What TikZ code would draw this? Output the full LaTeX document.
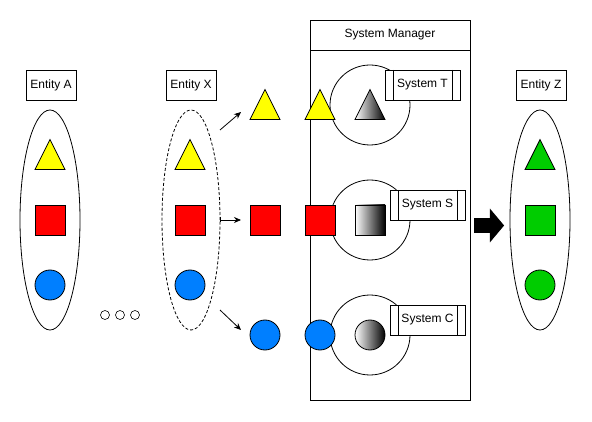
\documentclass[tikz,border=0pt]{standalone}
\usepackage{fontspec}
\setmainfont{Liberation Sans}
\usepackage{tikz}
\usetikzlibrary{arrows.meta}
\usetikzlibrary{shapes.geometric, shapes.arrows}
\definecolor{cyel}{RGB}{255,255,0}
\definecolor{cred}{RGB}{255,0,0}
\definecolor{cblue}{RGB}{0,127,255}
\definecolor{cgreen}{RGB}{0,204,0}

\begin{document}
\begin{tikzpicture}[x=1pt, y=-1pt, line width=0.8pt, font=\fontsize{12}{14}\selectfont,
	tag/.style={draw, rectangle, minimum width=50, minimum height=30, inner sep=0},
	ring/.style={draw, ellipse, minimum width=60, minimum height=220, inner sep=0},
	tri/.style={draw, isosceles triangle, isosceles triangle stretches, shape border rotate=90, minimum width=30, minimum height=30, inner sep=0, anchor=lower side},
	sq/.style={draw, rectangle, minimum size=30, inner sep=0},
	ball/.style={draw, circle, minimum size=30, inner sep=0},
	orbit/.style={draw, circle, minimum size=80, inner sep=0},
	grad/.style={left color=white, right color=black},
	sys/.style={draw, fill=white, rectangle, minimum width=75, minimum height=30, inner sep=0,
		path picture={\draw ([xshift=8pt]path picture bounding box.north west) -- ([xshift=8pt]path picture bounding box.south west)
			([xshift=-8pt]path picture bounding box.north east) -- ([xshift=-8pt]path picture bounding box.south east);}},
	dot/.style={draw, circle, minimum size=9, inner sep=0, line width=0.6pt},
	tip/.style={-{Stealth[length=7pt, width=6pt]}}]
	\useasboundingbox (0,0) rectangle (592,422);
	\node[tag] (ta) at (51,85) {Entity A};
	\node[ring] (ra) at (50,220) {};
	\node[tri, fill=cyel] (a1) at (50,170) {};
	\node[sq, fill=cred] (a2) at (50,220) {};
	\node[ball, fill=cblue] (a3) at (50,285) {};
	\node[dot] (d1) at (105,315) {};
	\node[dot] (d2) at (120,315) {};
	\node[dot] (d3) at (135,315) {};
	\node[tag] (tx) at (191,85) {Entity X};
	\node[ring, dashed, dash pattern=on 3pt off 2pt, minimum width=58] (rx) at (191,220) {};
	\node[tri, fill=cyel] (x1) at (190,170) {};
	\node[sq, fill=cred] (x2) at (190,220) {};
	\node[ball, fill=cblue] (x3) at (190,285) {};
	\coordinate (u0) at (220,130);
	\coordinate (u1) at (241,112);
	\coordinate (m0) at (220,220);
	\coordinate (m1) at (241,220);
	\coordinate (l0) at (220,310);
	\coordinate (l1) at (241,330);
	\draw[tip] (u0) -- (u1);
	\draw[{Bar[width=5pt]}-{Stealth[length=7pt, width=6pt]}] (m0) -- (m1);
	\draw[tip] (l0) -- (l1);
	\node[tri, fill=cyel] (p1) at (265,120) {};
	\node[sq, fill=cred] (p2) at (265,220) {};
	\node[ball, fill=cblue] (p3) at (265,335) {};
	\node[draw, rectangle, minimum width=160, minimum height=350, inner sep=0] (mgr) at (390,225) {};
	\node[draw, rectangle, minimum width=160, minimum height=30, inner sep=0] (head) at (390,35) {System Manager};
	\node[orbit] (ot) at (370,105) {};
	\node[orbit] (os) at (370,220) {};
	\node[orbit] (oc) at (370,335) {};
	\node[tri, grad] (g1) at (370,120) {};
	\node[sq, grad] (g2) at (370,220) {};
	\node[ball, grad] (g3) at (370,335) {};
	\node[sys] (st) at (422.5,85) {System T};
	\node[sys] (ss) at (427.5,205) {System S};
	\node[sys] (sc) at (427.5,320) {System C};
	\node[tri, fill=cyel] (q1) at (320,120) {};
	\node[sq, fill=cred] (q2) at (320,220) {};
	\node[ball, fill=cblue] (q3) at (320,335) {};
	\node[single arrow, fill=black, inner sep=7pt, minimum height=30, single arrow head extend=9.5pt, single arrow tip angle=100] (flow) at (486,225.5) {};
	\node[tag] (tz) at (541,85) {Entity Z};
	\node[ring] (rz) at (540,220) {};
	\node[tri, fill=cgreen] (z1) at (540,170) {};
	\node[sq, fill=cgreen] (z2) at (540,220) {};
	\node[ball, fill=cgreen] (z3) at (540,285) {};
\end{tikzpicture}
\end{document}
